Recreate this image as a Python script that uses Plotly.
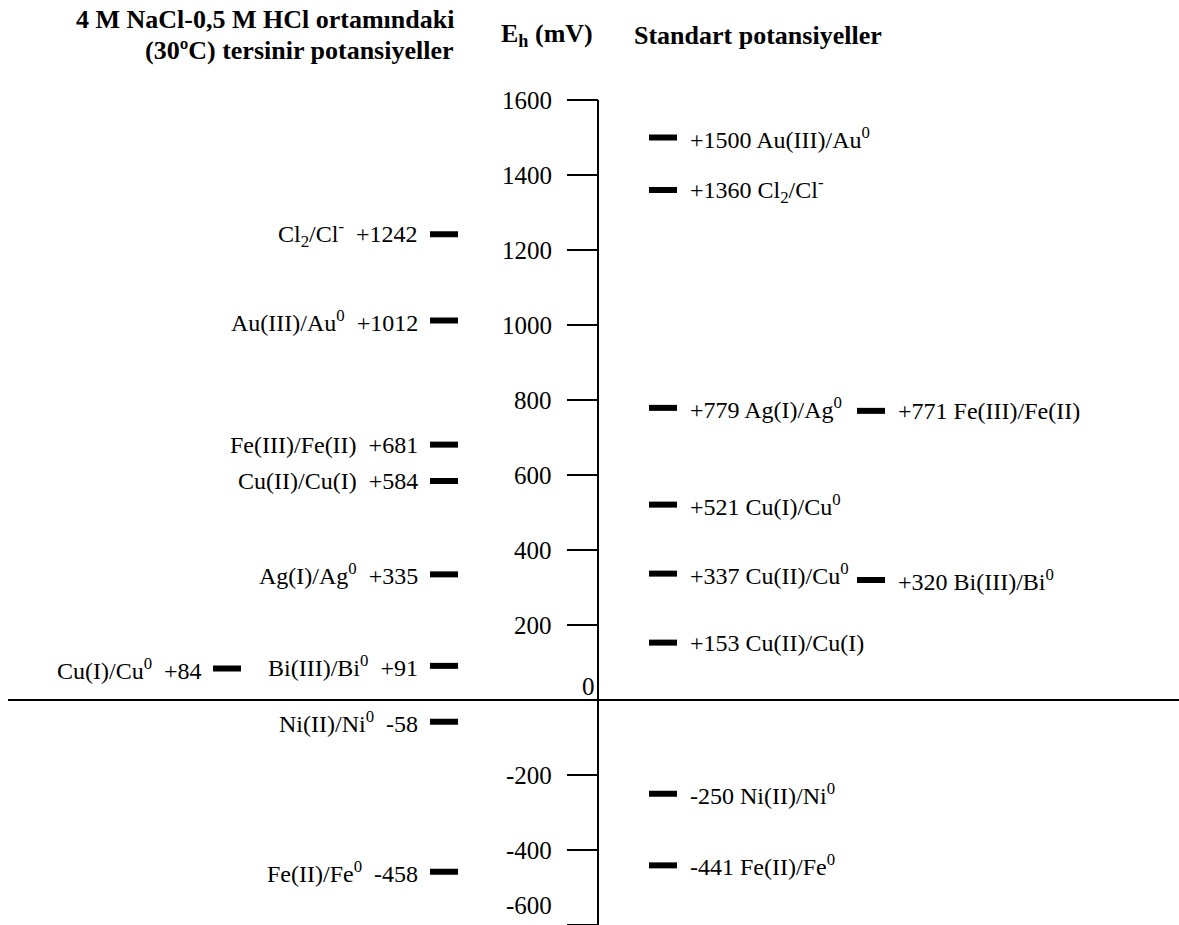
import plotly.graph_objects as go

# ---------------- data ----------------
tick_values = [1600, 1400, 1200, 1000, 800, 600, 400, 200, 0, -200, -400, -600]
tick_labels = ["1600", "1400", "1200", "1000", "800", "600", "400", "200", "0", "-200", "-400", "-600"]

# reversible potentials in 4 M NaCl-0.5 M HCl (30 C) -- left side
left_couples = ["Cl<sub>2</sub>/Cl<sup>-</sup>", "Au(III)/Au<sup>0</sup>", "Fe(III)/Fe(II)",
                "Cu(II)/Cu(I)", "Ag(I)/Ag<sup>0</sup>", "Bi(III)/Bi<sup>0</sup>",
                "Ni(II)/Ni<sup>0</sup>", "Fe(II)/Fe<sup>0</sup>", "Cu(I)/Cu<sup>0</sup>"]
left_values = [1242, 1012, 681, 584, 335, 91, -58, -458, 84]
left_column = [0, 0, 0, 0, 0, 0, 0, 0, 1]

# standard potentials -- right side
right_couples = ["Au(III)/Au<sup>0</sup>", "Cl<sub>2</sub>/Cl<sup>-</sup>", "Ag(I)/Ag<sup>0</sup>",
                 "Fe(III)/Fe(II)", "Cu(I)/Cu<sup>0</sup>", "Cu(II)/Cu<sup>0</sup>",
                 "Bi(III)/Bi<sup>0</sup>", "Cu(II)/Cu(I)", "Ni(II)/Ni<sup>0</sup>",
                 "Fe(II)/Fe<sup>0</sup>"]
right_values = [1500, 1360, 779, 771, 521, 337, 320, 153, -250, -441]
right_column = [0, 0, 0, 1, 0, 0, 1, 0, 0, 0]

title_left_1 = "4 M NaCl-0,5 M HCl ortamındaki"
title_left_2 = "(30ºC) tersinir potansiyeller"
title_axis = "E<sub>h</sub> (mV)"
title_right = "Standart potansiyeller"

# ---------------- layout helpers ----------------
W, H = 1179, 925
FONT = "Liberation Serif"
FS = 24          # labels
FS_TICK = 25
FS_HEAD = 26
AXIS_X = 598
TICK_X0 = 567
LEFT_BAR_X = [444, 227]       # bar centres for left columns
LEFT_TXT_X = [420, 204]       # right edge of text
RIGHT_BAR_X = [663, 871]
RIGHT_TXT_X = [688, 896]
BAR_SIZE = 20

def fmt(v):
    return ("+%d" % v) if v > 0 else str(v)

fig = go.Figure()

# bars (markers)
fig.add_trace(go.Scatter(
    x=[LEFT_BAR_X[c] for c in left_column] + [RIGHT_BAR_X[c] for c in right_column],
    y=left_values + right_values,
    mode="markers",
    marker=dict(symbol="line-ew", size=BAR_SIZE, line=dict(width=6, color="black"), color="black"),
    hoverinfo="skip", showlegend=False,
))

lab_font = dict(family=FONT, size=FS, color="black")
tick_font = dict(family=FONT, size=FS_TICK, color="black")
ann = []
for name, v, c in zip(left_couples, left_values, left_column):
    ann.append(dict(x=LEFT_TXT_X[c], y=v, xref="x", yref="y", xanchor="right", yanchor="middle",
                    text=name + "\u00a0\u00a0" + fmt(v), showarrow=False, font=lab_font))
for name, v, c in zip(right_couples, right_values, right_column):
    ann.append(dict(x=RIGHT_TXT_X[c], y=v, xref="x", yref="y", xanchor="left", yanchor="middle",
                    text=fmt(v) + " " + name, showarrow=False, font=lab_font))

# axis + ticks
shapes = [dict(type="line", x0=AXIS_X, x1=AXIS_X, y0=min(tick_values), y1=max(tick_values),
               xref="x", yref="y", line=dict(color="black", width=2)),
          dict(type="line", x0=8, x1=W, y0=0, y1=0, xref="x", yref="y",
               line=dict(color="black", width=2))]
for tv, tl in zip(tick_values, tick_labels):
    if tv != 0:
        shapes.append(dict(type="line", x0=TICK_X0, x1=AXIS_X, y0=tv, y1=tv, xref="x", yref="y",
                           line=dict(color="black", width=2)))
    if tv == 0:
        ann.append(dict(x=AXIS_X - 1, y=tv, xref="x", yref="y", xanchor="right", yanchor="middle",
                        yshift=14, text=tl, showarrow=False, font=tick_font))
    elif tv == min(tick_values):
        ann.append(dict(x=554, y=tv, xref="x", yref="y", xanchor="right", yanchor="middle",
                        yshift=20, text=tl, showarrow=False, font=tick_font))
    else:
        ann.append(dict(x=554, y=tv, xref="x", yref="y", xanchor="right", yanchor="middle",
                        text=tl, showarrow=False, font=tick_font))

# headers
bold = dict(family=FONT, size=FS_HEAD, color="black")
ann.append(dict(x=456, y=1 - 19 / H, xref="x", yref="paper", xanchor="right", yanchor="middle",
                text="<b>" + title_left_1 + "</b>", showarrow=False, font=bold))
ann.append(dict(x=456, y=1 - 50 / H, xref="x", yref="paper", xanchor="right", yanchor="middle",
                text="<b>" + title_left_2 + "</b>", showarrow=False, font=bold))
ann.append(dict(x=499, y=1 - 35 / H, xref="x", yref="paper", xanchor="left", yanchor="middle",
                text="<b>" + title_axis + "</b>", showarrow=False, font=bold))
ann.append(dict(x=632, y=1 - 35 / H, xref="x", yref="paper", xanchor="left", yanchor="middle",
                text="<b>" + title_right + "</b>", showarrow=False, font=bold))

# px -> mV: 0 at y=700 px, 0.375 px per mV
y_top = 700 / 0.375
y_bot = -(H - 700) / 0.375

fig.update_layout(
    width=W, height=H, margin=dict(l=0, r=0, t=0, b=0),
    paper_bgcolor="white", plot_bgcolor="white",
    xaxis=dict(range=[0, W], visible=False, fixedrange=True),
    yaxis=dict(range=[y_bot, y_top], visible=False, fixedrange=True),
    shapes=shapes, annotations=ann, showlegend=False,
)

fig.write_html("out.html")
